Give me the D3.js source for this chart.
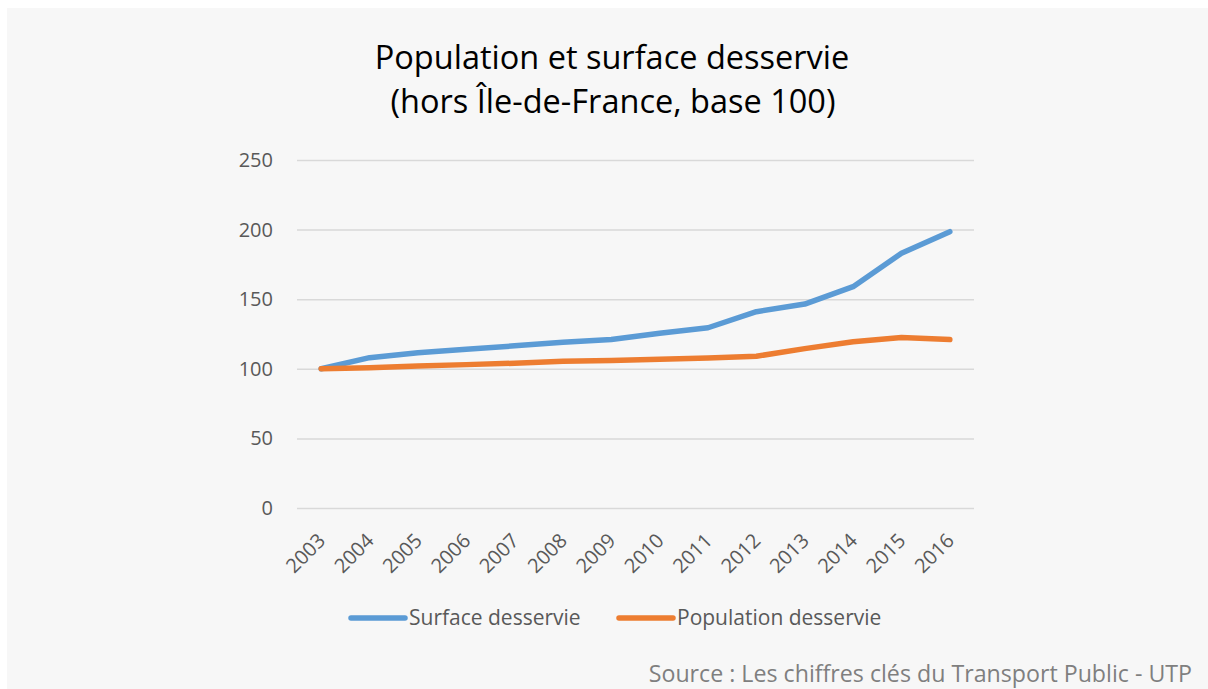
<!DOCTYPE html>
<html>
<head>
<meta charset="utf-8">
<script src="https://cdn.jsdelivr.net/npm/d3@7"></script>
<style>
  body { margin: 0; background: #fff; }
  text { font-family: "Open Sans", Lato, sans-serif; }
</style>
</head>
<body>
<svg id="chart" width="1208" height="689"></svg>
<script>
// data (base 100 in 2003)
const years = ["2003","2004","2005","2006","2007","2008","2009","2010","2011","2012","2013","2014","2015","2016"]
const surface = [100, 108, 111.5, 114, 116.5, 119, 121, 125.5, 129.5, 141, 146.5, 159, 183, 198.5]
const population = [100, 100.8, 102, 103, 104, 105.5, 106, 106.8, 107.8, 109, 114.5, 119.5, 122.5, 121]
const yTicks = [0, 50, 100, 150, 200, 250]
const seriesNames = ["Surface desservie", "Population desservie"]
const colors = ["#5b9bd5", "#ed7d31"]

const svg = d3.select("#chart")

svg.append("rect")
    .attr("x", 7).attr("y", 8)
    .attr("width", 1201).attr("height", 681)
    .attr("fill", "#f7f7f7")

// title
const title = svg.append("text")
    .attr("text-anchor", "middle")
    .attr("fill", "#000")
    .style("font-size", "32.5px")
title.append("tspan").attr("x", 612).attr("y", 69).text("Population et surface desservie")
title.append("tspan").attr("x", 613).attr("y", 113).text("(hors Île-de-France, base 100)")

const xRange = d3.scalePoint()
    .domain(years)
    .range([297, 974])
    .padding(0.5)

const yRange = d3.scaleLinear()
    .domain([0, 250])
    .range([508, 160])

// grid + y labels
const yAxis = svg.append("g")
    .attr("transform", "translate(297, 0)")
    .call(d3.axisLeft(yRange).tickValues(yTicks).tickSize(-677).tickPadding(24))
yAxis.select(".domain").remove()
yAxis.selectAll(".tick line").attr("stroke", "#d9d9d9").attr("stroke-width", 1.5)
yAxis.selectAll(".tick text")
    .attr("fill", "#595959")
    .style("font-size", "20px")
    .style("font-family", "Open Sans")

// x labels, rotated
const xAxis = svg.append("g")
    .attr("transform", "translate(0, 508)")
    .call(d3.axisBottom(xRange).tickSize(0))
xAxis.select(".domain").remove()
xAxis.selectAll(".tick text")
    .attr("fill", "#595959")
    .style("font-size", "20px")
    .style("font-family", "Open Sans")
    .attr("text-anchor", "end")
    .attr("dy", null)
    .attr("y", 0)
    .attr("transform", "translate(5, 34) rotate(-45)")

// lines
const line = d3.line()
    .x((d, i) => xRange(years[i]))
    .y(d => yRange(d))

;[surface, population].forEach((vals, k) => {
    svg.append("path")
        .datum(vals)
        .attr("fill", "none")
        .attr("stroke", colors[k])
        .attr("stroke-width", 5.5)
        .attr("stroke-linecap", "round")
        .attr("stroke-linejoin", "round")
        .attr("d", line)
})

// legend
const legendX = [351, 619]
seriesNames.forEach((name, k) => {
    const g = svg.append("g").attr("transform", `translate(${legendX[k]}, 618)`)
    g.append("line")
        .attr("x1", 0).attr("x2", 54)
        .attr("stroke", colors[k])
        .attr("stroke-width", 5.5)
        .attr("stroke-linecap", "round")
    g.append("text")
        .attr("x", 58).attr("y", 7)
        .attr("fill", "#595959")
        .style("font-size", "21px")
        .text(name)
})

// source
svg.append("text")
    .attr("x", 1192).attr("y", 682)
    .attr("text-anchor", "end")
    .attr("fill", "#7f7f7f")
    .style("font-size", "23.2px")
    .text("Source : Les chiffres clés du Transport Public - UTP")
</script>
</body>
</html>
